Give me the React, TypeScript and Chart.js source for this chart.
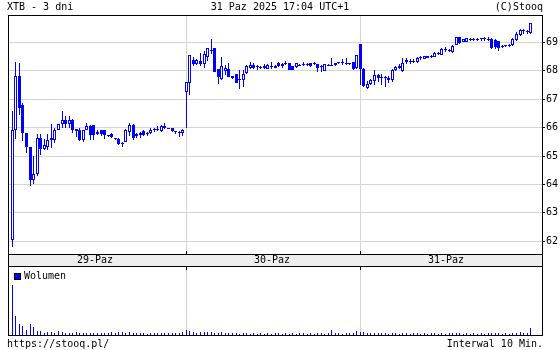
import React, { useEffect, useRef } from "react";
import { Chart, registerables } from "chart.js";
Chart.register(...registerables);

const BLUE = "#0000ff";
const GRID = "#d4d4d4";
const FONT = "'DejaVu Sans Mono', monospace";

const titleText = "XTB - 3 dni";
const dateText = "31 Paz 2025 17:04 UTC+1";
const copyText = "(C)Stooq";
const urlText = "https://stooq.pl/";
const intervalText = "Interwal 10 Min.";
const volumeLabel = "Wolumen";
const dayLabels = ["29-Paz", "30-Paz", "31-Paz"];
const dayStarts = [0, 49, 98];
const priceTicks = [62, 63, 64, 65, 66, 67, 68, 69];

const opens = [
  62.06, 65.91, 67.80, 66.79, 65.80, 65.30, 64.15, 64.36, 65.62, 65.26, 65.32, 65.63, 65.58, 65.91, 66.11, 66.25, 66.14, 66.26, 65.95, 65.91, 65.56, 65.91, 66.05, 66.08, 65.79, 65.90, 65.91, 65.72, 65.79, 65.62, 65.61, 65.45, 65.50, 65.85, 66.08, 65.70, 65.73, 65.87, 65.76, 65.80, 65.92, 65.93, 65.88, 66.05, 65.98, 65.98, 65.87, 65.86, 65.80,
  67.26, 67.58, 68.39, 68.25, 68.33, 68.25, 68.48, 68.72, 68.80, 68.05, 67.72, 67.99, 68.05, 67.80, 67.88, 67.72, 67.69, 67.93, 68.08, 68.19, 68.12, 68.14, 68.08, 68.06, 68.12, 68.10, 68.27, 68.18, 68.26, 68.27, 68.16, 68.12, 68.18, 68.22, 68.20, 68.27, 68.22, 68.22, 68.18, 67.99, 68.18, 68.16, 68.27, 68.27, 68.27, 68.22, 68.24, 68.29, 68.08,
  68.93, 68.05, 67.39, 67.55, 67.64, 67.84, 67.76, 67.77, 67.74, 67.69, 68.02, 68.10, 67.98, 68.38, 68.30, 68.32, 68.31, 68.44, 68.42, 68.51, 68.48, 68.50, 68.62, 68.57, 68.74, 68.72, 68.65, 68.91, 69.18, 69.02, 69.02, 69.10, 69.10, 69.13, 69.12, 69.12, 69.10, 69.12, 69.08, 69.05, 68.86, 68.86, 68.89, 68.91, 69.08, 69.24, 69.38, 69.38, 69.32,
];
const closes = [
  65.91, 67.80, 66.68, 65.80, 65.30, 64.15, 64.36, 65.62, 65.26, 65.40, 65.56, 65.55, 65.91, 66.11, 66.26, 66.14, 66.25, 65.93, 65.89, 65.58, 65.93, 66.05, 65.73, 65.73, 65.85, 65.78, 65.73, 65.70, 65.67, 65.60, 65.41, 65.42, 65.93, 66.08, 65.65, 65.79, 65.82, 65.75, 65.80, 65.93, 65.90, 65.95, 66.05, 65.97, 65.96, 65.88, 65.85, 65.80, 65.92,
  67.60, 68.54, 68.22, 68.36, 68.25, 68.60, 68.81, 68.70, 67.96, 67.78, 68.17, 68.10, 67.78, 67.75, 67.58, 67.68, 67.88, 68.17, 68.19, 68.10, 68.15, 68.11, 68.18, 68.20, 68.14, 68.18, 68.16, 68.25, 68.24, 68.04, 68.04, 68.27, 68.20, 68.20, 68.22, 68.16, 68.24, 68.08, 68.12, 68.23, 68.20, 68.20, 68.20, 68.26, 68.26, 68.24, 68.22, 68.05, 68.54,
  68.05, 67.45, 67.55, 67.66, 67.84, 67.76, 67.77, 67.76, 67.66, 68.04, 68.13, 68.16, 68.27, 68.30, 68.32, 68.31, 68.45, 68.43, 68.51, 68.46, 68.50, 68.64, 68.58, 68.78, 68.72, 68.71, 68.88, 69.18, 68.96, 69.10, 69.14, 69.09, 69.09, 69.08, 69.11, 69.11, 69.09, 68.80, 68.82, 68.79, 68.85, 68.90, 68.88, 69.12, 69.28, 69.43, 69.39, 69.37, 69.67,
];
const highs = [
  66.57, 68.30, 68.26, 66.85, 65.80, 65.30, 64.99, 65.79, 65.79, 65.59, 65.77, 66.12, 66.00, 66.11, 66.57, 66.40, 66.40, 66.30, 65.95, 65.98, 65.93, 66.17, 66.10, 66.10, 65.90, 65.92, 65.92, 65.75, 65.80, 65.63, 65.62, 65.50, 65.95, 66.16, 66.14, 65.82, 65.86, 65.90, 65.86, 65.97, 65.99, 66.05, 66.08, 66.16, 66.00, 65.99, 65.88, 65.88, 65.95,
  67.62, 68.57, 68.50, 68.40, 68.62, 68.70, 68.81, 69.13, 68.80, 68.05, 68.50, 68.20, 68.27, 67.82, 67.88, 68.02, 68.02, 68.20, 68.30, 68.28, 68.20, 68.18, 68.22, 68.22, 68.30, 68.20, 68.30, 68.28, 68.33, 68.28, 68.18, 68.28, 68.25, 68.30, 68.26, 68.28, 68.30, 68.24, 68.20, 68.25, 68.22, 68.43, 68.28, 68.30, 68.40, 68.45, 68.26, 68.30, 68.56,
  68.95, 68.08, 67.65, 67.72, 68.02, 67.90, 67.87, 67.82, 67.80, 68.06, 68.15, 68.25, 68.43, 68.43, 68.40, 68.42, 68.50, 68.52, 68.53, 68.53, 68.56, 68.66, 68.66, 68.80, 68.82, 68.75, 68.90, 69.20, 69.19, 69.12, 69.15, 69.14, 69.16, 69.15, 69.16, 69.17, 69.18, 69.14, 69.10, 69.06, 68.90, 68.92, 68.95, 69.14, 69.35, 69.45, 69.47, 69.42, 69.67,
];
const lows = [
  61.79, 65.59, 66.43, 65.53, 65.11, 63.95, 64.00, 64.30, 65.05, 65.20, 65.20, 65.27, 65.44, 65.90, 66.00, 66.00, 66.00, 65.81, 65.67, 65.53, 65.50, 65.90, 65.56, 65.56, 65.75, 65.72, 65.60, 65.68, 65.62, 65.58, 65.38, 65.30, 65.48, 65.70, 65.55, 65.62, 65.65, 65.72, 65.70, 65.78, 65.85, 65.88, 65.85, 65.96, 65.94, 65.85, 65.78, 65.66, 65.70,
  66.00, 67.14, 68.15, 68.20, 68.18, 68.10, 68.35, 68.60, 67.96, 67.55, 67.69, 67.85, 67.78, 67.72, 67.58, 67.37, 67.43, 67.90, 68.05, 68.05, 68.02, 68.06, 68.05, 68.05, 68.06, 68.08, 68.12, 68.10, 68.20, 68.02, 68.02, 68.10, 68.15, 68.18, 68.16, 68.12, 68.20, 67.95, 67.95, 67.98, 68.15, 68.15, 68.18, 68.22, 68.20, 68.20, 68.20, 68.02, 68.05,
  67.50, 67.41, 67.35, 67.50, 67.49, 67.60, 67.50, 67.43, 67.58, 67.62, 67.98, 68.05, 67.95, 68.25, 68.25, 68.26, 68.28, 68.38, 68.40, 68.44, 68.46, 68.48, 68.55, 68.55, 68.67, 68.66, 68.63, 68.90, 68.93, 69.00, 69.00, 69.05, 69.05, 69.04, 69.04, 69.06, 69.04, 68.77, 68.78, 68.70, 68.80, 68.82, 68.84, 68.88, 69.06, 69.22, 69.30, 69.30, 69.30,
];
const volumes = [
  50000, 18700, 11000, 9300, 5300, 11000, 7700, 4300, 3700, 2300, 2700, 3000, 2300, 4300, 3000, 2000, 2300, 2000, 2700, 2000, 1700, 2000, 2300, 1700, 2000, 1700, 2300, 1700, 2700, 2000, 2700, 3300, 2300, 2700, 2000, 1700, 2000, 1700, 1300, 1700, 2000, 1700, 2300, 2000, 1700, 2000, 2300, 1700, 2700,
  4700, 4300, 3300, 2300, 2700, 2700, 2700, 3000, 2300, 2000, 2700, 2000, 1700, 2000, 1700, 1300, 2000, 1700, 1300, 1700, 1300, 2000, 1300, 1700, 1300, 1700, 2000, 1300, 1700, 1300, 1700, 1300, 2000, 1700, 1300, 1700, 1300, 2000, 1700, 1300, 1700, 5300, 2000, 1700, 1300, 1700, 2000, 2300, 4300,
  3300, 2700, 2300, 2000, 2300, 1700, 2000, 1700, 1300, 2000, 1700, 1300, 2000, 1700, 1300, 1700, 2000, 1300, 1700, 1300, 1700, 2000, 1300, 1700, 1300, 1700, 2000, 2300, 1700, 1300, 1700, 1300, 1700, 1300, 1700, 1300, 1700, 2300, 2000, 1700, 1300, 1700, 1300, 2000, 2300, 2700, 1700, 2000, 7300,
];

const X_MIN = -1.21;
const X_MAX = 149.17;
const Y_MIN = 61.553;
const Y_MAX = 69.96;
const VOL_MAX = 68000;

const snapPlugin = {
  id: "snap",
  beforeDatasetsDraw(chart: any) {
    chart.data.datasets.forEach((_: any, i: number) => {
      const meta = chart.getDatasetMeta(i);
      meta.data.forEach((el: any) => {
        el.x = Math.floor(el.x) + 0.5;
        el.y = Math.round(el.y);
        el.base = Math.round(el.base);
        if (el.base === el.y) el.base = el.y + 1;
      });
    });
  },
};

const Txt = ({ x, y, align, children }: any) => {
  const style: any = {
    position: "absolute",
    top: y - 6,
    lineHeight: "12px",
    fontFamily: FONT,
    fontSize: "10px",
    color: "#000",
    whiteSpace: "pre",
  };
  if (align === "center") {
    style.left = x;
    style.transform = "translateX(-50%)";
  } else if (align === "right") {
    style.right = 560 - x;
  } else {
    style.left = x;
  }
  return <div style={style}>{children}</div>;
};

const Box = ({ l, t, w, h, c }: any) => (
  <div style={{ position: "absolute", left: l, top: t, width: w, height: h, background: c }} />
);

export default function App() {
  const priceRef = useRef<HTMLCanvasElement>(null);
  const volRef = useRef<HTMLCanvasElement>(null);

  useEffect(() => {
    const idx = opens.map((_, i) => i);
    const sepTicks = () => dayStarts.slice(1).map((v) => ({ value: v }));
    const xScale = (extra: any) => ({
      type: "linear",
      min: X_MIN,
      max: X_MAX,
      offset: false,
      afterBuildTicks: (s: any) => {
        s.ticks = sepTicks();
      },
      afterFit: (s: any) => {
        s.height = 0;
      },
      ticks: { display: false },
      grid: { color: GRID, drawTicks: false, offset: false },
      border: { display: false },
      ...extra,
    });

    const price = new Chart(priceRef.current as HTMLCanvasElement, {
      type: "bar",
      data: {
        datasets: [
          {
            label: "body",
            data: idx.map((i) => ({ x: i, y: [opens[i], closes[i]] })),
            backgroundColor: idx.map((i) => (closes[i] >= opens[i] ? "#ffffff" : BLUE)),
            borderColor: BLUE,
            borderWidth: 1,
            borderSkipped: false,
            barThickness: 3,
            grouped: false,
            minBarLength: 1,
            inflateAmount: 0,
            order: 0,
          },
          {
            label: "wick",
            data: idx.map((i) => ({ x: i, y: [lows[i], highs[i]] })),
            backgroundColor: BLUE,
            borderWidth: 0,
            barThickness: 1,
            grouped: false,
            inflateAmount: 0,
            order: 1,
          },
        ],
      } as any,
      options: {
        animation: false,
        responsive: false,
        devicePixelRatio: 1,
        layout: { padding: { left: 8, top: 15, right: 0, bottom: 96 } },
        plugins: { legend: { display: false }, tooltip: { enabled: false } },
        scales: {
          x: xScale({}),
          y: {
            type: "linear",
            position: "right",
            min: Y_MIN,
            max: Y_MAX,
            afterBuildTicks: (s: any) => {
              s.ticks = priceTicks.map((v) => ({ value: v }));
            },
            afterFit: (s: any) => {
              s.width = 18;
            },
            ticks: {
              color: "#000",
              padding: 1,
              font: { family: FONT, size: 10 },
              callback: (v: any) => String(v),
            },
            grid: { color: GRID, tickColor: "#000", tickLength: 3 },
            border: { display: false },
          },
        },
      } as any,
      plugins: [snapPlugin],
    });

    const vol = new Chart(volRef.current as HTMLCanvasElement, {
      type: "bar",
      data: {
        datasets: [
          {
            label: volumeLabel,
            data: idx.map((i) => ({ x: i, y: volumes[i] })),
            backgroundColor: BLUE,
            borderWidth: 0,
            barThickness: 1,
            grouped: false,
            inflateAmount: 0,
          },
        ],
      } as any,
      options: {
        animation: false,
        responsive: false,
        devicePixelRatio: 1,
        layout: { padding: { left: 8, top: 267, right: 18, bottom: 15 } },
        plugins: { legend: { display: false }, tooltip: { enabled: false } },
        scales: {
          x: xScale({}),
          y: { type: "linear", min: 0, max: VOL_MAX, display: false },
        },
      } as any,
      plugins: [snapPlugin],
    });

    return () => {
      price.destroy();
      vol.destroy();
    };
  }, []);

  const dayCenters = [95, 272, 446];

  return (
    <div style={{ position: "fixed", left: 0, top: 0, width: 560, height: 350, background: "#fff", overflow: "hidden" }}>
      <Box l={8} t={255} w={534} h={11} c="#eeeeee" />
      <canvas ref={priceRef} width={560} height={350} style={{ position: "absolute", left: 0, top: 0 }} />
      <canvas ref={volRef} width={560} height={350} style={{ position: "absolute", left: 0, top: 0 }} />
      {/* frame */}
      <Box l={8} t={15} w={535} h={1} c="#000" />
      <Box l={8} t={15} w={1} h={321} c="#000" />
      <Box l={542} t={15} w={1} h={321} c="#000" />
      <Box l={8} t={254} w={535} h={1} c="#000" />
      <Box l={8} t={266} w={535} h={1} c="#000" />
      <Box l={8} t={335} w={535} h={1} c="#000" />
      {/* separator ticks */}
      <Box l={186} t={251} w={1} h={3} c="#000" />
      <Box l={360} t={251} w={1} h={3} c="#000" />
      <Box l={186} t={267} w={1} h={3} c="#000" />
      <Box l={360} t={267} w={1} h={3} c="#000" />
      {/* texts */}
      <Txt x={7} y={7}>{titleText}</Txt>
      <Txt x={280} y={7} align="center">{dateText}</Txt>
      <Txt x={543} y={7} align="right">{copyText}</Txt>
      {dayLabels.map((d, i) => (
        <Txt key={d} x={dayCenters[i]} y={260} align="center">{d}</Txt>
      ))}
      <div style={{ position: "absolute", left: 14, top: 273, width: 5, height: 5, background: BLUE, border: "1px solid #000" }} />
      <Txt x={24} y={276}>{volumeLabel}</Txt>
      <Txt x={7} y={344}>{urlText}</Txt>
      <Txt x={543} y={344} align="right">{intervalText}</Txt>
    </div>
  );
}
